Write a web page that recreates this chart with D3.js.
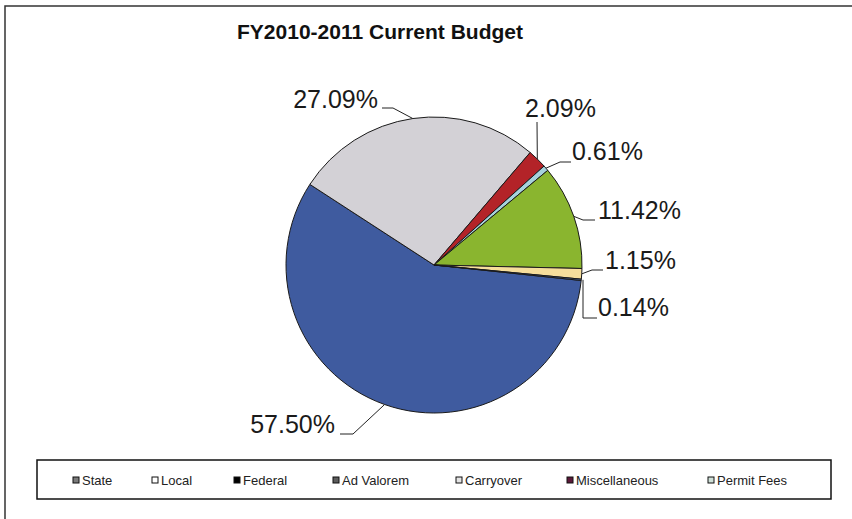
<!DOCTYPE html>
<html>
<head>
<meta charset="utf-8">
<script src="https://cdn.jsdelivr.net/npm/d3@7"></script>
<style>
  body { margin: 0; background: #fff; }
  svg { display: block; font-family: "Liberation Sans", Arial, sans-serif; }
</style>
</head>
<body>
<svg id="chart" width="852" height="519"></svg>
<script>
// Data
const categories = ["State", "Local", "Federal", "Ad Valorem", "Carryover", "Miscellaneous", "Permit Fees"];
const shares = [57.50, 27.09, 2.09, 0.61, 11.42, 1.15, 0.14];
const sliceColors = ["#3f5b9f", "#d3d1d6", "#b32328", "#a6d2dc", "#8ab52f", "#f6de9c", "#5a78b8"];
const legendColors = ["#7a7a7a", "#ffffff", "#000000", "#5c5c5c", "#e4e4e4", "#5a1838", "#cfe0d8"];

const width = 852, height = 519;
const svg = d3.select("#chart");

// outer frame
svg.append("rect")
    .attr("x", 5).attr("y", 6)
    .attr("width", width).attr("height", height)
    .attr("fill", "#fff")
    .attr("stroke", "#333")
    .attr("stroke-width", 1.5);

// title
svg.append("text")
    .attr("x", 380).attr("y", 39)
    .attr("text-anchor", "middle")
    .style("font-size", "21px")
    .style("font-weight", "bold")
    .attr("fill", "#111")
    .text("FY2010-2011 Current Budget");

// Pie
const cx = 434, cy = 265, radius = 148;
const startAngle = 96 * Math.PI / 180;

const pie = d3.pie()
    .sort(null)
    .value(d => d)
    .startAngle(startAngle)
    .endAngle(startAngle + 2 * Math.PI);

const arc = d3.arc().innerRadius(0).outerRadius(radius);
const edgeArc = d3.arc().innerRadius(radius).outerRadius(radius);

const g = svg.append("g").attr("transform", `translate(${cx},${cy})`);
const arcs = pie(shares);

g.selectAll("path")
    .data(arcs)
    .join("path")
    .attr("d", arc)
    .attr("fill", (d, i) => sliceColors[i])
    .attr("stroke", "#1a1a1a")
    .attr("stroke-width", 1);

// label placement (text position + elbow of leader line), in page coords
const labelLayout = [
    { x: 335, y: 433, anchor: "end",   joint: [340, 434], elbow: [353, 434] },
    { x: 378, y: 108, anchor: "end",   joint: [382, 108], elbow: [393, 108] },
    { x: 525, y: 117, anchor: "start", joint: [537, 122], elbow: [537, 122] },
    { x: 572, y: 160, anchor: "start", joint: [571, 162], elbow: [560, 162] },
    { x: 598, y: 219, anchor: "start", joint: [595, 220], elbow: [583, 220] },
    { x: 605, y: 269, anchor: "start", joint: [603, 270], elbow: [592, 270] },
    { x: 598, y: 316, anchor: "start", joint: [597, 318], elbow: [583, 318] }
];

const labels = svg.append("g");
arcs.forEach((d, i) => {
    const L = labelLayout[i];
    const [ex, ey] = edgeArc.centroid(d);
    let pts = [L.joint, L.elbow, [cx + ex, cy + ey]];
    if (i === 6) pts = [L.joint, L.elbow, [L.elbow[0], cy + ey]];
    labels.append("path")
        .attr("d", d3.line()(pts))
        .attr("fill", "none")
        .attr("stroke", "#222")
        .attr("stroke-width", 1);
    labels.append("text")
        .attr("x", L.x).attr("y", L.y)
        .attr("text-anchor", L.anchor)
        .style("font-size", "25px")
        .attr("fill", "#1a1a1a")
        .text(d3.format(".2f")(shares[i]) + "%");
});

// Legend
svg.append("rect")
    .attr("x", 37).attr("y", 460)
    .attr("width", 794).attr("height", 39)
    .attr("fill", "#fff")
    .attr("stroke", "#111")
    .attr("stroke-width", 1.5);

const legendX = [73, 152, 234, 333, 456, 567, 708];
const legend = svg.append("g");
categories.forEach((c, i) => {
    legend.append("rect")
        .attr("x", legendX[i]).attr("y", 477)
        .attr("width", 6).attr("height", 6)
        .attr("fill", legendColors[i])
        .attr("stroke", "#111")
        .attr("stroke-width", 1);
    legend.append("text")
        .attr("x", legendX[i] + 9).attr("y", 485)
        .style("font-size", "13px")
        .attr("fill", "#222")
        .text(c);
});
</script>
</body>
</html>
